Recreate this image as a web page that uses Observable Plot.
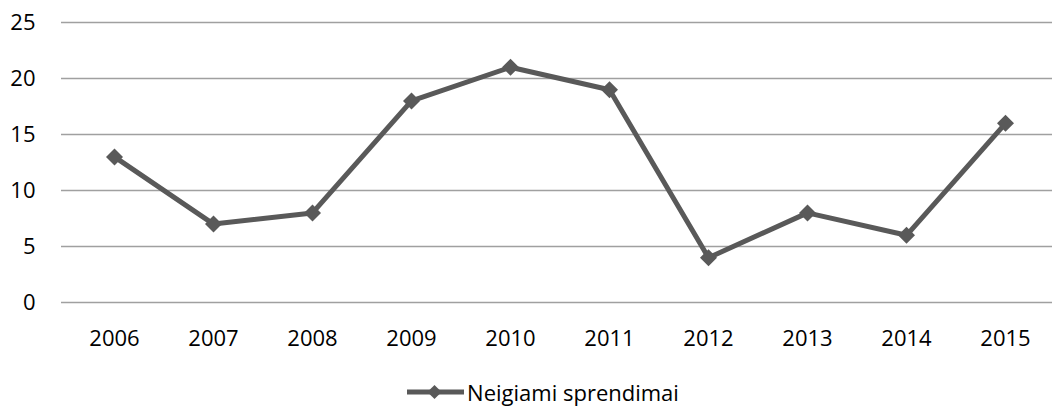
<!DOCTYPE html>
<html>
<head>
<meta charset="utf-8">
<script src="https://cdn.jsdelivr.net/npm/d3@7"></script>
<script src="https://cdn.jsdelivr.net/npm/@observablehq/plot@0.6"></script>
<style>
  body { margin: 0; background: #fff; font-family: "Open Sans", sans-serif; }
  #legend { height: 40px; display: flex; justify-content: center; align-items: flex-start; }
  #legend .item { display: flex; align-items: center; height: 24px; margin-top: 14px; margin-left: 34px; font-size: 22px; color: #000; }
</style>
</head>
<body>
<div id="chart"></div>
<div id="legend"><div class="item"><svg width="57" height="24" style="margin-right:3px"><line x1="0" y1="12" x2="57" y2="12" stroke="#595959" stroke-width="5"/><rect x="22.5" y="7" width="10" height="10" fill="#595959" transform="rotate(45 27.5 12)"/></svg><span id="legend-label"></span></div></div>
<script>
const years = ["2006","2007","2008","2009","2010","2011","2012","2013","2014","2015"];
const values = [13, 7, 8, 18, 21, 19, 4, 8, 6, 16];
const yTicks = [0, 5, 10, 15, 20, 25];
const seriesName = "Neigiami sprendimai";

document.getElementById("legend-label").textContent = seriesName;

const data = years.map((y, i) => ({year: y, value: values[i], series: seriesName}));

const chart = Plot.plot({
  width: 1052,
  height: 366,
  marginLeft: 61,
  marginRight: 0,
  marginTop: 22,
  marginBottom: 64,
  style: {fontFamily: "Open Sans, sans-serif", fontSize: "22px", color: "#000", background: "#fff"},
  x: {type: "point", domain: years, range: [110, 1009], padding: 0},
  y: {domain: [0, 25]},
  marks: [
    Plot.ruleY(yTicks, {stroke: "#a0a0a0", strokeWidth: 1.5}),
    Plot.axisY(yTicks, {tickSize: 0, tickPadding: 26, label: null, fontSize: 22}),
    Plot.axisX(years, {tickSize: 0, tickPadding: 28, label: null, fontSize: 22}),
    Plot.line(data, {x: "year", y: "value", stroke: "#595959", strokeWidth: 5}),
    Plot.dot(data, {x: "year", y: "value", symbol: "square", r: 6.8, rotate: 45, fill: "#595959", stroke: "none"})
  ]
});
document.getElementById("chart").appendChild(chart);
</script>
</body>
</html>
